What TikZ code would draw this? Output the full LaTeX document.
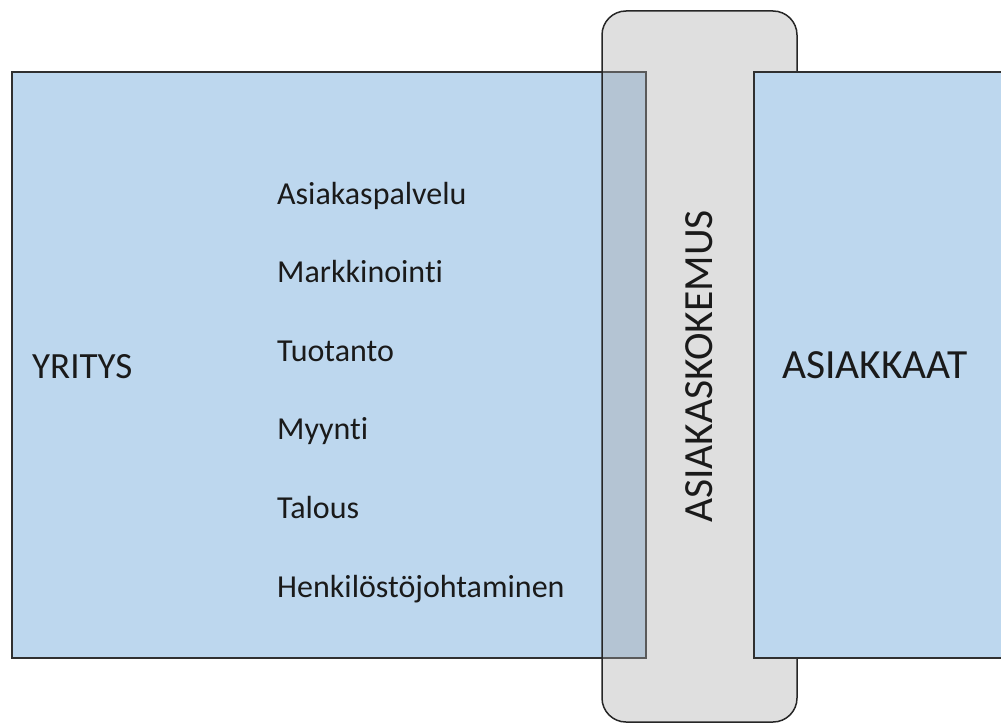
\documentclass[tikz,border=0pt]{standalone}
\usepackage{fontspec}
\setmainfont{Carlito}[Ligatures=NoCommon]
\definecolor{boxblue}{HTML}{BDD7EE}
\definecolor{edgegrey}{HTML}{303030}
\definecolor{bandgrey}{HTML}{A5A5A5}
\definecolor{inkdark}{HTML}{1A1A1A}
\tikzset{
  area/.style={draw=edgegrey, line width=1.5pt, fill=boxblue},
  band/.style={draw=black!85, line width=1.5pt, fill=bandgrey, fill opacity=0.36, rounded corners=24pt},
  item/.style={anchor=base west, inner sep=0pt, text=inkdark, font=\fontsize{32}{38}\selectfont},
  title/.style={inner sep=0pt, text=inkdark},
}
\begin{document}
\begin{tikzpicture}[x=1pt, y=-1pt]
  \useasboundingbox (0,0) rectangle (1001,725);
  \clip (0,0) rectangle (1001,725);
  % company area
  \draw[area] (12,72) rectangle (646,658);
  % customer experience band, see-through over the company area
  \draw[band] (602,11) rectangle (797,722);
  % customers area, on top of the band
  \draw[area] (754,72) rectangle (1012,658);

  \node[title, anchor=base west, font=\fontsize{37}{44}\selectfont] (yritys) at (32,378) {YRITYS};
  \node[title, anchor=base west, font=\fontsize{41.5}{48}\selectfont] (asiakkaat) at (782,378) {ASIAKKAAT};
  \node[title, anchor=base, rotate=90, font=\fontsize{41.5}{48}\selectfont] (kokemus) at (712,366.5) {ASIAKASKOKEMUS};

  \node[item] (i1) at (277,204) {Asiakaspalvelu};
  \node[item] (i2) at (277,282.6) {Markkinointi};
  \node[item] (i3) at (277,361.2) {Tuotanto};
  \node[item] (i4) at (277,439.8) {Myynti};
  \node[item] (i5) at (277,518.4) {Talous};
  \node[item] (i6) at (277,597) {Henkilöstöjohtaminen};
\end{tikzpicture}
\end{document}
